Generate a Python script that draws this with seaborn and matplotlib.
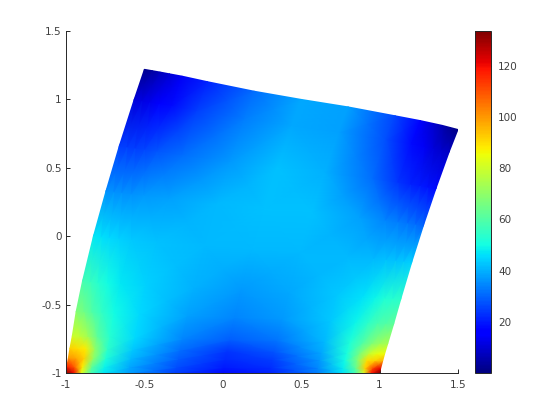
import numpy as np
import matplotlib
matplotlib.use("Agg")
import matplotlib.pyplot as plt
import seaborn as sns

u_stations = [0, .025, .05, .08, .12, .2, .35, .5, .65, .8, .88, .92, .95, .975, 1]
v_stations = [0, .02, .05, .08, .12, .2, .3, .45, .6, .75, .9, 1]

left_x = [-1, -.995, -.985, -.975, -.96, -.935, -.895, -.825, -.745, -.66, -.565, -.5]
left_y = [-1, -.955, -.89, -.82, -.73, -.55, -.33, 0, .33, .66, 1.0, 1.22]
right_x = [1, 1.007, 1.02, 1.032, 1.052, 1.09, 1.135, 1.205, 1.28, 1.36, 1.445, 1.5]
right_y = [-1, -.965, -.91, -.86, -.785, -.64, -.46, -.19, .08, .35, .62, .78]
top_x = [-.5, -.45, -.4, -.34, -.26, -.1, .2, .5, .8, 1.1, 1.26, 1.34, 1.4, 1.45, 1.5]
top_y = [1.22, 1.21, 1.2, 1.187, 1.17, 1.13, 1.06, 1.0, .945, .88, .845, .825, .81, .795, .78]

# colour values per node, rows bottom to top, columns left to right
field = [
    [133, 120, 82, 58, 47, 38, 25, 18, 21, 33, 46, 56, 80, 118, 133],
    [118, 108, 88, 62, 49, 39, 27, 20, 23, 35, 48, 62, 92, 112, 122],
    [100, 98, 92, 70, 52, 41, 29, 22, 25, 37, 50, 68, 90, 92, 96],
    [92, 90, 88, 70, 54, 43, 31, 24, 28, 39, 51, 66, 78, 84, 86],
    [80, 78, 73, 62, 53, 45, 34, 29, 32, 41, 52, 60, 67, 72, 74],
    [68, 65, 60, 55, 50, 45, 38, 34, 37, 43, 49, 54, 58, 60, 62],
    [58, 56, 53, 50, 47, 44, 40, 37, 39, 43, 46, 49, 52, 53, 54],
    [47, 46, 45, 44, 43, 42, 41, 41, 41, 41, 41, 42, 42, 43, 44],
    [36, 36, 36, 36, 37, 38, 41, 42, 42, 38, 34, 33, 32, 31, 30],
    [25, 25, 25, 26, 28, 31, 37, 42, 40, 31, 24, 21, 20, 19, 18],
    [11, 12, 13, 15, 18, 25, 33, 39, 38, 27, 18, 14, 11, 9, 8],
    [2, 4, 7, 10, 14, 21, 31, 39, 38, 26, 15, 10, 6, 3, 1],
]

cbar_ticks = [20, 40, 60, 80, 100, 120]
x_ticks = [-1, -.5, 0, .5, 1, 1.5]
y_ticks = [-1, -.5, 0, .5, 1, 1.5]
tick_names = ["-1", "-0.5", "0", "0.5", "1", "1.5"]

# nodes: blend between the left and right edges, then pull the last row onto the top edge
u = np.array(u_stations)
v = np.array(v_stations)
lx, ly = np.array(left_x), np.array(left_y)
rx, ry = np.array(right_x), np.array(right_y)
tx, ty = np.array(top_x), np.array(top_y)
X = (np.outer(1 - u, lx) + np.outer(u, rx)).T + np.outer(v, tx - ((1 - u) * lx[-1] + u * rx[-1]))
Y = (np.outer(1 - u, ly) + np.outer(u, ry)).T + np.outer(v, ty - ((1 - u) * ly[-1] + u * ry[-1]))

sns.set_style("ticks")
plt.rcParams["font.family"] = ["DejaVu Sans"]
text_grey = "#404040"

fig = plt.figure(figsize=(5.6, 4.2), dpi=100)
ax = fig.add_axes([66 / 560, 1 - 373 / 420, 392 / 560, 342 / 420])
cax = fig.add_axes([475 / 560, 1 - 373 / 420, 16 / 560, 342 / 420])

mesh = ax.pcolormesh(X, Y, np.array(field), cmap="jet", shading="gouraud", vmin=0.1, vmax=133.5)
ax.set_xlim(-1, 1.5)
ax.set_ylim(-1, 1.5)
ax.set_xticks(x_ticks, tick_names)
ax.set_yticks(y_ticks, tick_names)
ax.tick_params(direction="in", length=3, width=0.7, labelsize=7.5, labelcolor=text_grey, color="#262626")
ax.tick_params(axis="x", pad=5)
ax.tick_params(axis="y", pad=3)
sns.despine(ax=ax)
for side in ["left", "bottom"]:
    ax.spines[side].set_linewidth(0.7)
    ax.spines[side].set_color("#262626")

cbar = fig.colorbar(mesh, cax=cax)
cbar.set_ticks(cbar_ticks)
cbar.ax.tick_params(direction="in", length=3, width=0.7, labelsize=7.5, labelcolor=text_grey, color="#262626", pad=5)
cbar.outline.set_linewidth(0.7)
cbar.outline.set_edgecolor("#262626")

fig.savefig("out.png", dpi=100)
